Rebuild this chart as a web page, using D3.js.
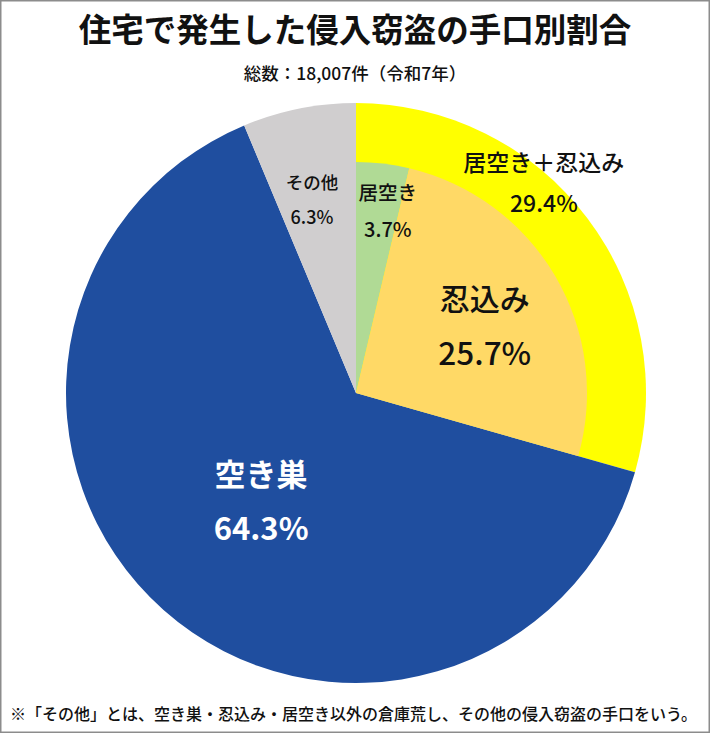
<!DOCTYPE html>
<html lang="ja">
<head>
<meta charset="utf-8">
<script src="https://cdn.jsdelivr.net/npm/d3@7"></script>
<style>
  html, body { margin: 0; padding: 0; background: #fff; }
  svg { display: block; font-family: "Noto Sans CJK JP", "Noto Sans", sans-serif; }
</style>
</head>
<body>
<div id="chart"></div>
<script>
// 外側（手口の大分類）
const outerNames = ["居空き＋忍込み", "空き巣", "その他"];
const outerValues = [29.4, 64.3, 6.3];
const outerColors = ["#ffff00", "#1f4e9f", "#d0cecf"];

// 内側（居空き＋忍込みの内訳）
const innerNames = ["居空き", "忍込み"];
const innerValues = [3.7, 25.7];
const innerColors = ["#b0da95", "#ffd966"];

const titleText = "住宅で発生した侵入窃盗の手口別割合";
const subtitleText = "総数：18,007件（令和7年）";
const noteText = "※「その他」とは、空き巣・忍込み・居空き以外の倉庫荒し、その他の侵入窃盗の手口をいう。";

(function () {
  const width = 710;
  const height = 733;
  const cx = 356;
  const cy = 393;
  const rOuter = 290;
  const rInner = 231;

  const svg = d3.select("#chart").append("svg")
    .attr("width", width)
    .attr("height", height);

  // 枠
  svg.append("rect")
    .attr("x", 0.75).attr("y", 0.75)
    .attr("width", width - 1.5).attr("height", height - 1.5)
    .attr("fill", "#fff")
    .attr("stroke", "#8c8c8c")
    .attr("stroke-width", 1.5);

  svg.append("text")
    .attr("x", width / 2).attr("y", 42)
    .attr("text-anchor", "middle")
    .attr("font-size", 32.5).attr("font-weight", 700)
    .attr("fill", "#111")
    .text(titleText);

  svg.append("text")
    .attr("x", width / 2).attr("y", 80)
    .attr("text-anchor", "middle")
    .attr("font-size", 17.5).attr("font-weight", 500)
    .attr("fill", "#111")
    .text(subtitleText);

  svg.append("text")
    .attr("x", 10).attr("y", 720)
    .attr("font-size", 16).attr("font-weight", 500)
    .attr("fill", "#111")
    .text(noteText);

  const total = d3.sum(outerValues);
  const angle = d3.scaleLinear().domain([0, total]).range([0, 2 * Math.PI]);

  const g = svg.append("g").attr("transform", `translate(${cx},${cy})`);

  const outerPie = d3.pie().sort(null).startAngle(0).endAngle(2 * Math.PI);
  const outerArcs = outerPie(outerValues);
  const outerArc = d3.arc().innerRadius(0).outerRadius(rOuter);

  g.selectAll("path.outer")
    .data(outerArcs)
    .join("path")
    .attr("class", "outer")
    .attr("d", outerArc)
    .attr("fill", (d, i) => outerColors[i]);

  const innerPie = d3.pie().sort(null).startAngle(0).endAngle(angle(d3.sum(innerValues)));
  const innerArcs = innerPie(innerValues);
  const innerArc = d3.arc().innerRadius(0).outerRadius(rInner);

  g.selectAll("path.inner")
    .data(innerArcs)
    .join("path")
    .attr("class", "inner")
    .attr("d", innerArc)
    .attr("fill", (d, i) => innerColors[i]);

  // ラベル配置（スライス内の角度比率と半径）
  function polar(d, t, r) {
    const a = d.startAngle + (d.endAngle - d.startAngle) * t;
    return [Math.sin(a) * r, -Math.cos(a) * r];
  }

  function label(d, name, value, opt) {
    const [x, y] = polar(d, opt.t, opt.r);
    const t = g.append("text")
      .attr("text-anchor", "middle")
      .attr("fill", opt.color)
      .attr("font-weight", opt.weight);
    t.append("tspan")
      .attr("x", x).attr("y", y - opt.gap / 2)
      .attr("font-size", opt.size1)
      .attr("dominant-baseline", "central")
      .text(name);
    t.append("tspan")
      .attr("x", x).attr("y", y + opt.gap / 2)
      .attr("font-size", opt.size2)
      .attr("dominant-baseline", "central")
      .text(value.toFixed(1) + "%");
  }

  const outerLabelOpts = [
    { t: 0.393, r: 283, gap: 41, size1: 23, size2: 23, color: "#111", weight: 500 },
    { t: 0.5, r: 143, gap: 54, size1: 31, size2: 31, color: "#fff", weight: 700 },
    { t: 0.436, r: 199, gap: 34, size1: 17.5, size2: 18, color: "#111", weight: 500 }
  ];
  const innerLabelOpts = [
    { t: 0.74, r: 186, gap: 37, size1: 19.5, size2: 20, color: "#111", weight: 500 },
    { t: 0.525, r: 146, gap: 54, size1: 30, size2: 31.5, color: "#111", weight: 500 }
  ];

  outerArcs.forEach((d, i) => label(d, outerNames[i], outerValues[i], outerLabelOpts[i]));
  innerArcs.forEach((d, i) => label(d, innerNames[i], innerValues[i], innerLabelOpts[i]));
})();
</script>
</body>
</html>
